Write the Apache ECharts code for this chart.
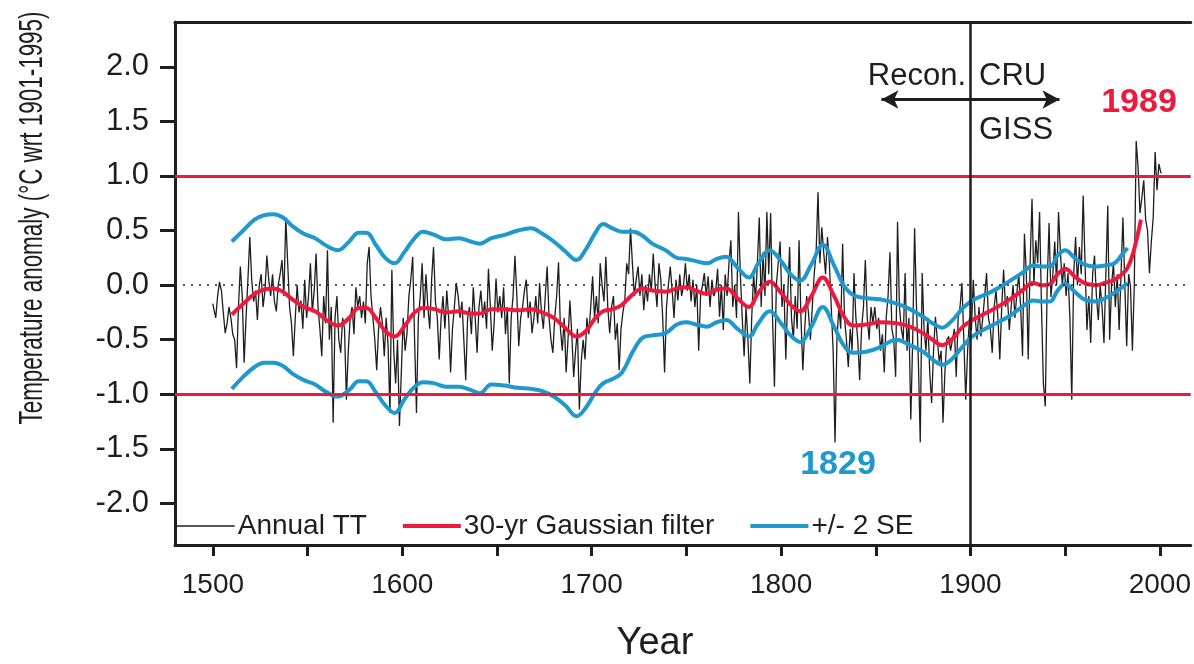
<!DOCTYPE html>
<html>
<head>
<meta charset="utf-8">
<script src="https://cdn.jsdelivr.net/npm/echarts@6/dist/echarts.min.js"></script>
<style>
  html, body { margin: 0; padding: 0; background: #fff; }
  #chart { width: 1194px; height: 664px; }
</style>
</head>
<body>
<div id="chart"></div>
<script>
// annual values, one per year from 1500
const annualStart = 1500;
const annualTT = [
  -0.17, -0.22, -0.3, -0.1, 0.03, -0.05, -0.25, -0.44, -0.35, -0.2,
  -0.3, -0.45, -0.5, -0.76, -0.2, 0.17, -0.1, -0.71, -0.3, 0.05,
  0.44, 0.05, -0.15, -0.05, -0.32, 0.0, 0.1, -0.2, -0.05, 0.27,
  0.05, -0.1, 0.1, -0.15, -0.24, 0.0, 0.1, 0.23, -0.1, 0.62,
  0.2, -0.2, -0.35, -0.65, -0.3, 0.0, -0.25, -0.14, -0.4, 0.05,
  -0.3, -0.1, 0.2, -0.25, -0.05, 0.29, -0.2, -0.4, -0.65, -0.1,
  -0.35, 0.32, -0.5, -0.2, -1.26, -0.3, -0.1, -0.5, -0.62, -0.3,
  -0.4, -1.05, -0.6, -0.3, -0.2, -0.45, -0.02, -0.2, -0.1, -0.3,
  -0.15, -0.35, 0.2, 0.35, -0.1, -0.3, -0.5, -0.78, -0.4, -0.2,
  -0.35, -0.65, -0.3, -0.55, -1.17, 0.14, -0.6, -0.9, -0.5, -1.29,
  -0.8, -0.3, -0.6, -0.44, -0.1, 0.05, 0.26, -0.5, -1.17, -0.3,
  -0.1, 0.2, -0.3, 0.1, -0.2, -0.4, 0.05, 0.35, -0.15, -0.3,
  -0.68, -0.3, -0.1, -0.4, -0.05, -0.3, -0.8, -0.4, -0.2, 0.02,
  -0.1, -0.3, -0.15, -0.5, -0.87, -0.3, -0.2, -0.45, -0.02, -0.3,
  -0.62, -0.2, -0.05, -0.3, -0.15, -0.4, 0.15, -0.2, -0.6, -0.35,
  0.06, -0.25, -0.1, -0.3, -0.02, -0.45, -0.2, -0.9, -0.3, -0.1,
  0.27, -0.1, -0.56, -0.3, -0.2, -0.05, 0.05, -0.3, -0.15, -0.44,
  -0.3, -0.1, -0.35, 0.02, -0.25, -0.4, -0.1, 0.17, -0.3, -0.5,
  -0.62, -0.3, -0.1, 0.21, -0.4, -0.6, -0.3, -0.8, -0.5, -0.14,
  -0.45, -0.84, -0.6, -0.4, -1.14, -0.7, -0.5, -0.68, -0.3, -0.45,
  -0.2, 0.08, -0.3, -0.1, -0.35, 0.2, 0.0, -0.15, 0.26, -0.2,
  -0.44, -0.2, -0.1, -0.5, -0.35, -0.78, -0.4, -0.25, -0.14, 0.2,
  0.1, 0.52, 0.2, -0.1, 0.05, 0.17, -0.1, 0.1, -0.23, 0.0,
  -0.15, 0.1, -0.05, 0.29, 0.0, -0.2, 0.2, 0.05, -0.3, -0.8,
  -0.2, 0.0, 0.17, -0.05, -0.3, 0.05, -0.14, 0.1, -0.1, 0.0,
  0.2, -0.05, 0.1, -0.15, 0.05, -0.2, 0.0, -0.6, -0.1, 0.0,
  0.11, -0.1, 0.08, -0.2, 0.05, -0.1, -0.05, 0.15, -0.29, 0.0,
  -0.41, 0.1, -0.1, 0.2, 0.41, -0.2, 0.0, -0.3, 0.67, 0.1,
  -0.3, -0.65, -0.2, -0.5, -0.9, -0.3, 0.1, -0.14, 0.2, 0.62,
  -0.2, 0.3, -0.1, 0.67, 0.1, 0.66, -0.3, -0.93, 0.0, 0.2,
  0.4, -0.2, 0.0, -0.68, -0.1, 0.35, -0.3, -0.5, -0.1, -0.4,
  0.41, -0.3, -0.78, -0.4, -0.1, -0.26, -0.5, -0.2, 0.1, 0.3,
  0.85, 0.2, 0.53, 0.3, 0.1, 0.44, 0.2, -0.2, -0.6, -1.44,
  -0.5, -0.2, -0.4, 0.38, -0.3, -0.5, -0.75, -0.4, -0.6, 0.11,
  -0.3, -0.5, -0.87, -0.4, -0.2, 0.23, -0.3, -0.5, -0.2, -0.35,
  -0.2, -0.4, -0.3, -0.6, -0.45, -0.8, -0.3, -0.1, 0.3, -0.4,
  -0.5, -0.84, 0.58, -0.2, -0.4, -0.5, 0.11, -0.6, -0.3, -1.23,
  -0.5, 0.52, -0.2, -0.7, -1.44, 0.11, -0.4, -0.6, -0.3, -0.8,
  -1.08, -0.6, -0.29, -0.5, -0.7, -0.6, -1.26, -0.8, -0.5, -0.47,
  -0.6, -0.5, -0.4, -0.84, -0.3, -0.2, 0.02, -0.5, -1.05, -0.6,
  -0.3, -0.41, 0.05, -0.3, -0.5, -0.2, -0.47, -0.3, -0.1, 0.11,
  -0.3, -0.4, -0.62, -0.2, -0.05, -0.3, -0.68, -0.2, 0.14, -0.2,
  -0.1, -0.41, -0.2, 0.0, -0.3, -0.07, 0.1, -0.2, -0.65, 0.47,
  0.1, -0.68, 0.2, 0.79, 0.0, 0.41, 0.2, 0.67, -0.2, -0.9,
  -1.11, 0.0, 0.57, -0.11, 0.1, 0.4, 0.0, 0.67, 0.3, 0.0,
  0.2, -0.1, 0.11, -0.3, -1.05, 0.1, 0.44, 0.0, 0.35, 0.1,
  0.82, 0.2, -0.41, -0.1, -0.53, 0.1, 0.27, -0.1, -0.32, 0.0,
  -0.2, -0.53, 0.1, 0.73, -0.5, 0.0, 0.2, -0.2, 0.1, -0.41,
  0.1, 0.62, 0.0, -0.56, 0.1, -0.01, -0.6, 0.0, 1.32, 1.08,
  0.66, 0.8, 0.96, 0.6, 0.5, 0.11, 0.4, 0.62, 1.22, 0.87,
  1.11, 1.03
];

// 30-yr gaussian filter and +/- 2 SE band
const smoothYears = [1510,1516,1522,1527,1532,1537,1542,1548,1554,1560,1566,1572,1577,1581,1586,1591,1596,1601,1606,1611,
  1617,1623,1630,1636,1641,1647,1654,1661,1668,1674,1680,1686,1692,1697,1702,1706,1711,1716,1722,1727,
  1732,1739,1745,1750,1755,1761,1766,1771,1777,1783,1788,1794,1800,1805,1810,1816,1822,1828,1833,1838,
  1845,1852,1861,1868,1875,1880,1885,1890,1896,1901,1910,1920,1928,1933,1938,1942,1946,1950,1955,1960,
  1966,1971,1976,1980,1983,1986,1990];
const gaussian = [-0.27,-0.17,-0.08,-0.04,-0.03,-0.06,-0.13,-0.2,-0.24,-0.32,-0.37,-0.3,-0.21,-0.21,-0.3,-0.42,-0.47,-0.38,-0.26,-0.21,
  -0.22,-0.25,-0.24,-0.26,-0.26,-0.22,-0.22,-0.23,-0.22,-0.25,-0.3,-0.39,-0.47,-0.42,-0.3,-0.24,-0.22,-0.18,-0.08,-0.03,
  -0.05,-0.06,-0.03,-0.02,-0.05,-0.08,-0.04,-0.03,-0.12,-0.2,-0.07,0.03,-0.07,-0.18,-0.24,-0.1,0.07,-0.1,-0.28,-0.37,
  -0.36,-0.34,-0.35,-0.38,-0.44,-0.5,-0.55,-0.5,-0.38,-0.32,-0.24,-0.14,-0.04,0.02,0.0,0.01,0.1,0.15,0.08,0.02,
  0.0,0.02,0.05,0.1,0.16,0.3,0.6];
const upperSE = [0.4,0.5,0.6,0.64,0.65,0.62,0.54,0.47,0.43,0.36,0.32,0.4,0.48,0.48,0.37,0.25,0.2,0.3,0.42,0.49,
  0.46,0.42,0.43,0.4,0.38,0.43,0.46,0.5,0.52,0.47,0.4,0.31,0.23,0.33,0.48,0.56,0.52,0.49,0.49,0.45,
  0.38,0.32,0.25,0.24,0.22,0.2,0.24,0.26,0.16,0.07,0.2,0.32,0.22,0.1,0.04,0.19,0.37,0.18,0.0,-0.09,
  -0.12,-0.13,-0.17,-0.22,-0.29,-0.35,-0.39,-0.33,-0.21,-0.14,-0.07,0.03,0.12,0.18,0.17,0.17,0.27,0.32,0.25,0.19,
  0.17,0.18,0.2,0.28,0.34,null,null];
const lowerSE = [-0.95,-0.84,-0.75,-0.71,-0.71,-0.74,-0.81,-0.87,-0.91,-0.98,-1.02,-0.96,-0.88,-0.88,-0.98,-1.1,-1.17,-1.05,-0.94,-0.89,
  -0.9,-0.93,-0.93,-0.96,-0.99,-0.91,-0.92,-0.94,-0.95,-0.97,-1.02,-1.1,-1.2,-1.12,-0.98,-0.9,-0.86,-0.8,-0.6,-0.48,
  -0.46,-0.44,-0.36,-0.34,-0.36,-0.38,-0.34,-0.32,-0.4,-0.47,-0.35,-0.24,-0.35,-0.46,-0.52,-0.38,-0.2,-0.38,-0.55,-0.62,
  -0.61,-0.57,-0.5,-0.55,-0.61,-0.68,-0.73,-0.68,-0.56,-0.47,-0.38,-0.29,-0.19,-0.14,-0.15,-0.15,-0.05,0.01,-0.06,-0.13,
  -0.15,-0.12,-0.07,-0.02,0.02,null,null];

const yTicks = [-2, -1.5, -1, -0.5, 0, 0.5, 1, 1.5, 2];
const xTicks = [1500, 1550, 1600, 1650, 1700, 1750, 1800, 1850, 1900, 1950, 2000];
const xLabels = [1500, 1600, 1700, 1800, 1900, 2000];

const RED = '#ec1b3e';
const BLUE = '#1e98cd';
const INK = '#1e1e1e';
const FONT = 'Liberation Sans, Arial, sans-serif';

const annualData = annualTT.map((v, i) => [annualStart + i, v]);
const pair = arr => smoothYears.map((y, i) => [y, arr[i]]);

const chart = echarts.init(document.getElementById('chart'));
chart.setOption({
  animation: false,
  backgroundColor: '#fff',
  textStyle: { fontFamily: FONT, color: INK },
  grid: { left: 175, top: 22, right: 0, bottom: 119 },
  legend: {
    left: 176, top: 512, padding: 0,
    itemWidth: 58, itemHeight: 14, itemGap: 34,
    itemStyle: { opacity: 0 },
    textStyle: { fontSize: 28, fontFamily: FONT, color: INK, padding: [0, 0, 0, -2] },
    data: [
      { name: 'Annual TT', lineStyle: { width: 1.4 } },
      { name: '30-yr Gaussian filter', lineStyle: { width: 4 } },
      { name: '+/- 2 SE', lineStyle: { width: 4 } }
    ]
  },
  xAxis: [
    {
      type: 'value', min: 1480, max: 2016.3,
      axisLine: { show: true, onZero: false, lineStyle: { color: INK, width: 3 } },
      splitLine: { show: false },
      axisTick: { show: true, customValues: xTicks, length: 11, lineStyle: { color: INK, width: 3 } },
      axisLabel: { customValues: xLabels, margin: 26, fontSize: 28, color: INK, fontFamily: FONT, formatter: v => String(v) }
    },
    {
      type: 'value', position: 'top', min: 1480, max: 2016.3,
      axisLine: { show: true, onZero: false, lineStyle: { color: INK, width: 3 } },
      splitLine: { show: false }, axisTick: { show: false }, axisLabel: { show: false }
    }
  ],
  yAxis: {
    type: 'value', min: -2.38, max: 2.41,
    axisLine: { show: true, onZero: false, lineStyle: { color: INK, width: 3 } },
    splitLine: { show: false },
    axisTick: { show: true, customValues: yTicks, length: 15, lineStyle: { color: INK, width: 3 } },
    axisLabel: {
      customValues: yTicks, margin: 26, fontSize: 31, color: INK, fontFamily: FONT,
      formatter: v => v.toFixed(1)
    }
  },
  graphic: [
    {
      type: 'text', x: 33, y: 218, rotation: Math.PI / 2, scaleX: 0.66,
      style: {
        text: 'Temperature anomaly (°C wrt 1901-1995)',
        font: '34px ' + FONT,
        fill: INK, align: 'center', verticalAlign: 'middle'
      }
    },
    {
      type: 'text', x: 655, y: 644,
      style: { text: 'Year', font: '38px ' + FONT, fill: INK, align: 'center', verticalAlign: 'middle' }
    },
    {
      type: 'text', x: 966, y: 76,
      style: { text: 'Recon.', font: '31px ' + FONT, fill: INK, align: 'right', verticalAlign: 'middle' }
    },
    {
      type: 'text', x: 979, y: 76,
      style: { text: 'CRU', font: '31px ' + FONT, fill: INK, align: 'left', verticalAlign: 'middle' }
    },
    {
      type: 'text', x: 979, y: 130,
      style: { text: 'GISS', font: '31px ' + FONT, fill: INK, align: 'left', verticalAlign: 'middle' }
    },
    {
      type: 'text', x: 1139, y: 103,
      style: { text: '1989', font: 'bold 34px ' + FONT, fill: RED, align: 'center', verticalAlign: 'middle' }
    },
    {
      type: 'text', x: 838, y: 465,
      style: { text: '1829', font: 'bold 34px ' + FONT, fill: BLUE, align: 'center', verticalAlign: 'middle' }
    }
  ],
  series: [
    {
      name: 'Annual TT', type: 'line', step: 'middle', symbol: 'none',
      lineStyle: { color: INK, width: 1.3 },
      itemStyle: { color: INK },
      data: annualData,
      markLine: {
        silent: true, symbol: 'none', label: { show: false },
        data: [
          { yAxis: 1, lineStyle: { color: RED, width: 3, type: 'solid' } },
          { yAxis: -1, lineStyle: { color: RED, width: 3, type: 'solid' } },
          { yAxis: 0, lineStyle: { color: INK, width: 1.6, type: [2, 6] } },
          { xAxis: 1900, lineStyle: { color: INK, width: 2.5, type: 'solid' } },
          [
            { coord: [1853, 1.7], symbol: 'arrow', symbolSize: [14, 17] },
            { coord: [1947, 1.7], symbol: 'arrow', symbolSize: [14, 17], lineStyle: { color: INK, width: 3, type: 'solid' } }
          ]
        ]
      }
    },
    {
      name: '+/- 2 SE', type: 'line', smooth: 0.4, symbol: 'none',
      lineStyle: { color: BLUE, width: 4 }, itemStyle: { color: BLUE },
      data: pair(upperSE)
    },
    {
      name: '+/- 2 SE', type: 'line', smooth: 0.4, symbol: 'none',
      lineStyle: { color: BLUE, width: 4 }, itemStyle: { color: BLUE },
      data: pair(lowerSE)
    },
    {
      name: '30-yr Gaussian filter', type: 'line', smooth: 0.4, symbol: 'none',
      lineStyle: { color: RED, width: 4 }, itemStyle: { color: RED },
      data: pair(gaussian)
    }
  ]
});
</script>
</body>
</html>
